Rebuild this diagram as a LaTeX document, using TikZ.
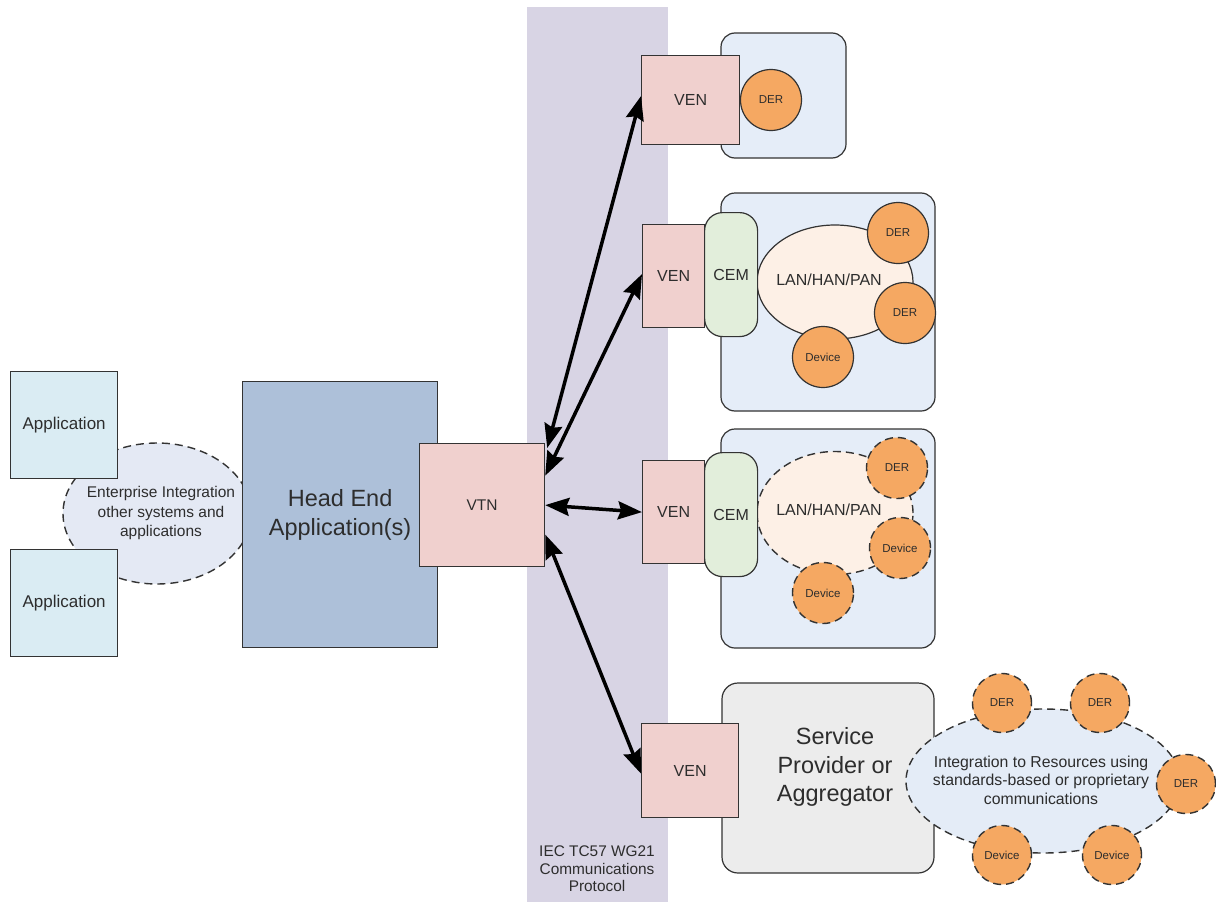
\documentclass[tikz,border=0pt]{standalone}
\usepackage{fontspec}
\setmainfont{Liberation Sans}
\usetikzlibrary{shapes.geometric,arrows.meta}

\definecolor{bandcol}{RGB}{216,212,228}
\definecolor{appcol}{RGB}{218,236,243}
\definecolor{entcol}{RGB}{228,233,244}
\definecolor{headcol}{RGB}{173,192,217}
\definecolor{vencol}{RGB}{240,208,206}
\definecolor{sitecol}{RGB}{229,237,248}
\definecolor{cemcol}{RGB}{226,238,219}
\definecolor{lancol}{RGB}{253,240,230}
\definecolor{dercol}{RGB}{245,168,98}
\definecolor{spcol}{RGB}{236,236,236}
\definecolor{intcol}{RGB}{228,236,247}
\definecolor{inkcol}{RGB}{51,51,51}
\definecolor{txtcol}{RGB}{45,45,45}

\tikzset{
  outline/.style={draw=inkcol, line width=1.2pt},
  dashline/.style={draw=inkcol, line width=1.4pt, dash pattern=on 8pt off 5pt},
  box/.style={outline, rectangle, inner sep=0pt, anchor=north west, text=txtcol, align=center},
  appbox/.style={box, fill=appcol, minimum width=107pt, minimum height=107pt, font=\fontsize{17}{20}\selectfont},
  venbox/.style={box, fill=vencol, font=\fontsize{16}{19}\selectfont},
  sitebox/.style={outline, fill=sitecol, rounded corners=14pt},
  cembox/.style={box, fill=cemcol, rounded corners=18pt, minimum width=53pt, minimum height=124pt, font=\fontsize{16}{19}\selectfont},
  lanoval/.style={ellipse, fill=lancol, inner sep=0pt, minimum width=156pt},
  lantext/.style={text=txtcol, font=\fontsize{16}{19}\selectfont},
  res/.style={circle, fill=dercol, inner sep=0pt, minimum size=61pt, text=txtcol, font=\fontsize{11.5}{13}\selectfont},
  tip/.style={Stealth[length=24pt,width=18pt,inset=3pt]},
  biarrow/.style={line width=3.5pt, draw=black, {Stealth[length=24pt,width=18pt,inset=3pt]}-{Stealth[length=24pt,width=18pt,inset=3pt]}},
  smalltext/.style={text=txtcol, align=center},
  bigtext/.style={text=txtcol, align=center, font=\fontsize{23.5}{29}\selectfont}
}

\begin{document}
\begin{tikzpicture}[x=1pt,y=-1pt]
\useasboundingbox (0,0) rectangle (1216,902);
\fill[white] (0,0) rectangle (1216,902);

% protocol band
\fill[bandcol] (527,7) rectangle (668,902);
\node[smalltext, font=\fontsize{15.4}{17.5}\selectfont] (iec) at (597,869) {IEC TC57 WG21\\Communications\\Protocol};

% enterprise side
\node[ellipse, fill=entcol, dashline, minimum width=188pt, minimum height=141pt, inner sep=0pt] (ent) at (157,513.5) {};
\node[smalltext, font=\fontsize{15.5}{19.5}\selectfont] (enttext) at (161,513) {Enterprise Integration\\other systems and\\applications};
\node[appbox] (app1) at (10,371) {Application};
\node[appbox] (app2) at (10,549) {Application};

\node[box, fill=headcol, minimum width=195pt, minimum height=266pt, bigtext] (head) at (242,381) {Head End\\Application(s)};
\node[venbox, minimum width=125pt, minimum height=123pt, font=\fontsize{15.5}{18}\selectfont] (vtn) at (419,443) {VTN};

% site 1: single DER
\draw[sitebox] (721,33) rectangle (846,158);
\node[venbox, minimum width=98pt, minimum height=89pt] (ven1) at (641,55) {VEN};
\node[res, outline] (der1) at (771,100) {DER};

% site 2: CEM with local network
\draw[sitebox] (721,193) rectangle (935,411);
\node[lanoval, outline, minimum height=114pt] (lan2) at (835,282) {};
\node[lantext] (lan2t) at (829,280) {LAN/HAN/PAN};
\node[venbox, minimum width=62pt, minimum height=103pt] (ven2) at (642,224) {VEN};
\node[cembox] (cem2) at (704,212) {CEM};
\node[res, outline] (der2a) at (898,233) {DER};
\node[res, outline] (der2b) at (905,313) {DER};
\node[res, outline] (dev2) at (823,357) {Device};

% site 3: CEM with optional resources
\draw[sitebox] (721,429) rectangle (935,648);
\node[lanoval, dashline, minimum height=123pt] (lan3) at (835,513) {};
\node[lantext] (lan3t) at (829,510) {LAN/HAN/PAN};
\node[venbox, minimum width=62pt, minimum height=103pt] (ven3) at (642,460) {VEN};
\node[cembox] (cem3) at (704,452) {CEM};
\node[res, dashline] (der3) at (897,468) {DER};
\node[res, dashline] (dev3a) at (900,548) {Device};
\node[res, dashline] (dev3b) at (823,593) {Device};

% site 4: service provider / aggregator
\draw[outline, fill=spcol, rounded corners=16pt] (722,683) rectangle (934,873);
\node[bigtext, font=\fontsize{23.5}{28.5}\selectfont] (sp) at (835,767) {Service\\Provider or\\Aggregator};
\node[venbox, minimum width=97pt, minimum height=94pt] (ven4) at (641,723) {VEN};
\node[ellipse, fill=intcol, dashline, minimum width=274pt, minimum height=144pt, inner sep=0pt] (int) at (1043,781) {};
\node[smalltext, font=\fontsize{15.8}{18.5}\selectfont] (inttext) at (1041,780) {Integration to Resources using\\standards-based or proprietary\\communications};
\node[res, dashline, minimum size=59pt] (der4a) at (1002,703) {DER};
\node[res, dashline, minimum size=59pt] (der4b) at (1100,703) {DER};
\node[res, dashline, minimum size=59pt] (der4c) at (1186,784) {DER};
\node[res, dashline, minimum size=59pt] (dev4a) at (1002,855) {Device};
\node[res, dashline, minimum size=59pt] (dev4b) at (1112,855) {Device};

% VTN to VEN links
\draw[biarrow] ([xshift=2pt,yshift=-5pt]vtn.north east) -- ([yshift=4pt]ven1.west);
\draw[biarrow] (vtn.25) -- ([yshift=2pt]ven2.west);
\draw[biarrow] (vtn.east) -- (ven3.west);
\draw[biarrow] (vtn.-25) -- ([yshift=-3pt]ven4.west);
\end{tikzpicture}
\end{document}
